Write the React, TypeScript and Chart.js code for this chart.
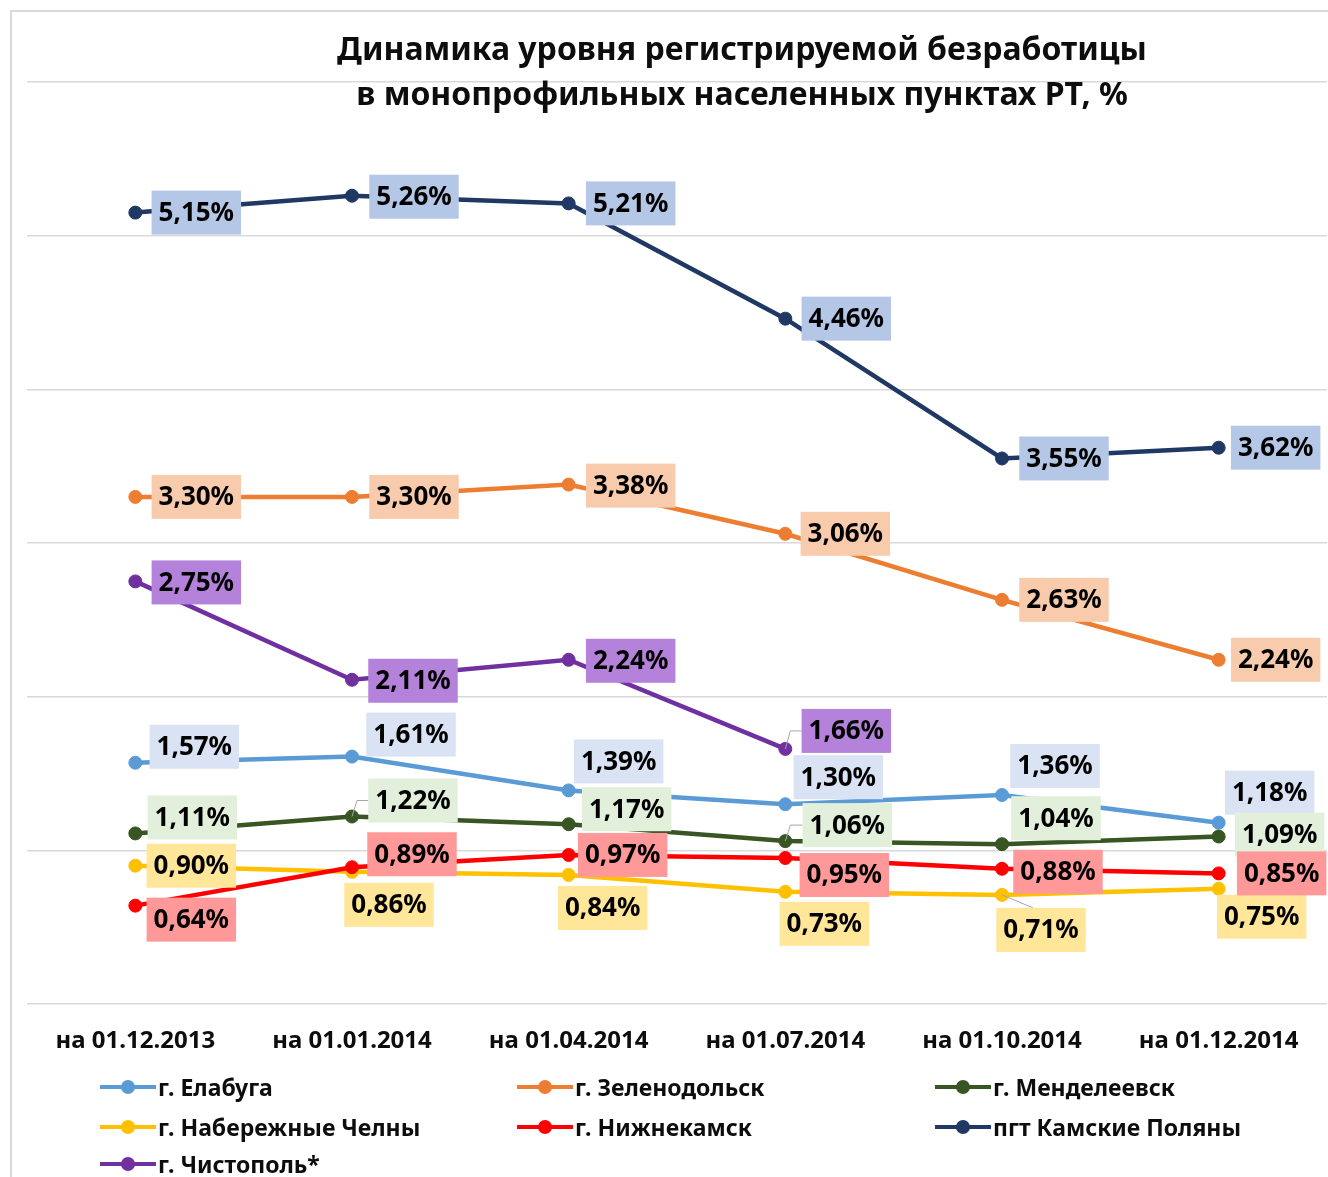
import React, { useEffect, useRef } from "react";
import { Chart, registerables } from "chart.js";

Chart.register(...registerables);

// ---------- DATA ----------
const categories = [
  "на 01.12.2013",
  "на 01.01.2014",
  "на 01.04.2014",
  "на 01.07.2014",
  "на 01.10.2014",
  "на 01.12.2014",
];
const seriesNames = [
  "г. Елабуга",
  "г. Зеленодольск",
  "г. Менделеевск",
  "г. Набережные Челны",
  "г. Нижнекамск",
  "пгт Камские Поляны",
  "г. Чистополь*",
];
const elabuga = [1.57, 1.61, 1.39, 1.3, 1.36, 1.18];
const zelenodolsk = [3.3, 3.3, 3.38, 3.06, 2.63, 2.24];
const mendeleevsk = [1.11, 1.22, 1.17, 1.06, 1.04, 1.09];
const naberezhnyeChelny = [0.9, 0.86, 0.84, 0.73, 0.71, 0.75];
const nizhnekamsk = [0.64, 0.89, 0.97, 0.95, 0.88, 0.85];
const kamskiePolyany = [5.15, 5.26, 5.21, 4.46, 3.55, 3.62];
const chistopol: (number | null)[] = [2.75, 2.11, 2.24, 1.66, null, null];

const seriesValues = [
  elabuga,
  zelenodolsk,
  mendeleevsk,
  naberezhnyeChelny,
  nizhnekamsk,
  kamskiePolyany,
  chistopol,
];

// ---------- STYLE ----------
const lineColors = ["#5B9BD5", "#ED7D31", "#375623", "#FFC000", "#FF0000", "#1F3864", "#7030A0"];
const labelBg = ["#DAE3F3", "#F8CBAD", "#E2EFDA", "#FFE699", "#FF9999", "#B4C7E7", "#B482DA"];

// label box centre offsets from the point (px), optional leader line type
type Place = [number, number, string?];
const labelPlaces: Place[][] = [
  [[59, -16], [59, -22], [50, -29], [53, -27], [53, -29], [51, -30]],
  [[61, 0], [62, 0], [62, 1], [60, 0], [62, 0], [57, 0]],
  [[57, -16], [61, -16, "left"], [58, -15], [62, -16, "left"], [54, -26], [61, -2]],
  [[56, 0], [37, 33], [34, 33], [39, 32], [39, 35, "top"], [43, 28]],
  [[56, 14], [60, -13], [54, 0], [59, 17], [56, 3], [63, 0]],
  [[61, 0], [62, 1], [62, 0], [61, 0], [62, 0], [57, 0]],
  [[61, 1], [61, 1], [62, 1], [61, -18, "left"]],
];

const FONT = '"Noto Sans", "Open Sans", sans-serif';
const LABEL_FONT_SIZE = 26;
const LABEL_BOX_H = 44;
const LABEL_PAD_X = 7;

const fmt = (v: number) => v.toFixed(2).replace(".", ",") + "%";

const labelPlugin = {
  id: "boxedLabels",
  afterDatasetsDraw(chart: any) {
    const ctx = chart.ctx as CanvasRenderingContext2D;
    ctx.save();
    ctx.font = `bold ${LABEL_FONT_SIZE}px ${FONT}`;
    ctx.textAlign = "center";
    ctx.textBaseline = "middle";
    chart.data.datasets.forEach((ds: any, di: number) => {
      const meta = chart.getDatasetMeta(di);
      ds.data.forEach((v: number | null, i: number) => {
        if (v == null) return;
        const el = meta.data[i];
        const pl = labelPlaces[di][i];
        const cx = el.x + pl[0];
        const cy = el.y + pl[1];
        const text = fmt(v);
        const w = ctx.measureText(text).width + LABEL_PAD_X * 2;
        const h = LABEL_BOX_H;
        const left = cx - w / 2;
        const top = cy - h / 2;
        if (pl[2]) {
          ctx.strokeStyle = "#A6A6A6";
          ctx.lineWidth = 1;
          ctx.beginPath();
          if (pl[2] === "left") {
            ctx.moveTo(el.x, el.y);
            ctx.lineTo(el.x + 5, cy);
            ctx.lineTo(left, cy);
          } else {
            ctx.moveTo(el.x, el.y);
            ctx.lineTo(cx - 8, top);
          }
          ctx.stroke();
        }
        ctx.fillStyle = labelBg[di];
        ctx.fillRect(left, top, w, h);
        ctx.fillStyle = "#000000";
        ctx.fillText(text, cx, cy + 1);
      });
    });
    ctx.restore();
  },
};

export default function App() {
  const canvasRef = useRef<HTMLCanvasElement | null>(null);

  useEffect(() => {
    if (!canvasRef.current) return;
    const chart = new Chart(canvasRef.current, {
      type: "line",
      data: {
        labels: categories,
        datasets: seriesValues.map((vals, i) => ({
          label: seriesNames[i],
          data: vals,
          borderColor: lineColors[i],
          backgroundColor: lineColors[i],
          pointBackgroundColor: lineColors[i],
          pointBorderColor: lineColors[i],
          borderWidth: 4.5,
          pointRadius: 6.5,
          pointBorderWidth: 1,
          tension: 0,
          spanGaps: false,
          order: seriesValues.length - i,
        })),
      },
      options: {
        animation: false,
        responsive: false,
        devicePixelRatio: 1,
        layout: { autoPadding: false, padding: { left: 27, right: 1, top: 82, bottom: 103 } },
        plugins: {
          legend: { display: false },
          title: { display: false },
          tooltip: { enabled: false },
        },
        scales: {
          x: {
            type: "category",
            offset: true,
            grid: { display: false },
            border: { display: false },
            ticks: {
              color: "#0D0D0D",
              font: { family: FONT, size: 24, weight: "bold" },
              padding: 15,
              maxRotation: 0,
              autoSkip: false,
            },
            afterFit: (s: any) => {
              s.height = 70;
              s.paddingLeft = 0;
              s.paddingRight = 0;
            },
          },
          y: {
            min: 0,
            max: 6,
            ticks: { display: false, stepSize: 1 },
            grid: { color: "#D9D9D9", lineWidth: 1.5, drawTicks: false },
            border: { display: false },
            afterFit: (s: any) => {
              s.width = 0;
            },
          },
        },
      },
      plugins: [labelPlugin],
    });
    return () => chart.destroy();
  }, []);

  const legendCols = [100, 517, 935];
  const legendRows = [1087, 1127, 1164];

  return (
    <div
      style={{
        position: "absolute",
        left: 0,
        top: 0,
        width: 1328,
        height: 1177,
        overflow: "hidden",
        background: "#fff",
        fontFamily: FONT,
      }}
    >
      <div
        style={{
          position: "absolute",
          left: 10,
          top: 10,
          width: 1330,
          height: 1180,
          borderLeft: "2px solid #D9D9D9",
          borderTop: "2px solid #D9D9D9",
        }}
      />
      <canvas
        ref={canvasRef}
        width={1328}
        height={1177}
        style={{ position: "absolute", left: 0, top: 0, width: 1328, height: 1177 }}
      />
      <div
        style={{
          position: "absolute",
          left: 162,
          width: 1160,
          top: 25,
          textAlign: "center",
          fontWeight: "bold",
          fontSize: 32,
          lineHeight: "45px",
          color: "#0D0D0D",
        }}
      >
        <div>Динамика уровня регистрируемой безработицы</div>
        <div>в монопрофильных населенных пунктах РТ, %</div>
      </div>
      {seriesNames.map((name, i) => {
        const col = i % 3;
        const row = Math.floor(i / 3);
        return (
          <div
            key={name}
            style={{
              position: "absolute",
              left: legendCols[col],
              top: legendRows[row] - 16,
              height: 32,
              display: "flex",
              alignItems: "center",
              fontWeight: "bold",
              fontSize: 23,
              color: "#0D0D0D",
              whiteSpace: "nowrap",
            }}
          >
            <span style={{ position: "relative", width: 56, height: 32, display: "inline-block" }}>
              <span
                style={{
                  position: "absolute",
                  left: 0,
                  top: 14,
                  width: 56,
                  height: 4,
                  background: lineColors[i],
                }}
              />
              <span
                style={{
                  position: "absolute",
                  left: 21,
                  top: 9,
                  width: 14,
                  height: 14,
                  borderRadius: 7,
                  background: lineColors[i],
                }}
              />
            </span>
            <span style={{ marginLeft: 2 }}>{name}</span>
          </div>
        );
      })}
    </div>
  );
}
